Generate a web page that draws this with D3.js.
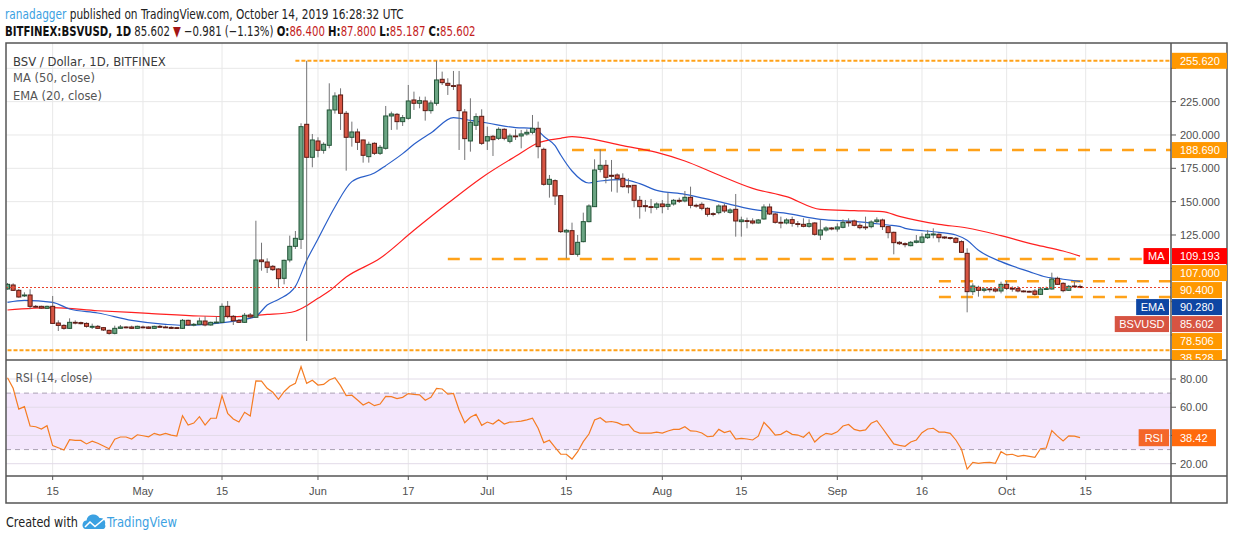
<!DOCTYPE html>
<html>
<head>
<meta charset="utf-8">
<script src="https://cdnjs.cloudflare.com/ajax/libs/d3/7.8.5/d3.min.js"></script>
<style>
  body { margin: 0; background: #fff; }
  svg { display: block; }
</style>
</head>
<body>
<svg id="chart" width="1234" height="540"></svg>
<script>
// daily candles BSV/USD, Bitfinex, starting 2019-04-07
const startDay = "2019-04-07";
const open = [
  84.5, 87.5, 83.5, 79.3, 80, 71.5, 71.5, 70, 71.5, 59,
  57.2, 55, 59.5, 59.3, 58.7, 55.8, 56.5, 55.5, 53.5, 51.25,
  55, 56, 56, 55, 56, 56, 55, 56.5, 56, 55.7,
  55.5, 55, 61, 57.5, 58, 60.5, 57.5, 59.5, 59.5, 71.5,
  64, 61, 59.5, 65, 63.3, 106.25, 104.75, 101.5, 99.5, 92.5,
  106.25, 116.5, 121.75, 208, 183.25, 195.5, 188.5, 192.25, 218.75, 230,
  216.25, 198.25, 202.25, 196.25, 183.75, 193.75, 186.25, 190, 214.25, 215.5,
  210, 212.5, 226.25, 223.75, 225.5, 218.25, 223.75, 241.75, 238.75, 237,
  237.5, 217.25, 195.5, 207.25, 214, 195.5, 199, 197.5, 204.25, 195.25,
  199.25, 199.25, 200.75, 202, 205, 189.25, 163, 165.75, 154.5, 127.25,
  128.25, 110.5, 120, 135, 146.25, 174.25, 177.25, 169.75, 170, 167.5,
  162, 162.25, 151, 147, 146.25, 145.75, 148.25, 146.5, 148.25, 151,
  150.5, 153.25, 147.25, 148, 145, 141, 141.75, 146.75, 142, 144.25,
  135, 135.75, 135.5, 134, 137, 146, 140.75, 134.5, 134, 136.5,
  133.5, 133, 131.5, 134, 125, 128.75, 130.25, 129.5, 130.75, 134.75,
  135.5, 132.25, 131, 131.25, 135, 136.25, 131.25, 127, 119.5, 118.5,
  117, 119.5, 119.5, 123, 125, 125.5, 123.5, 123, 122.5, 120,
  111.25, 82.5, 85.75, 83.5, 84.5, 84.5, 83, 88, 85, 84.75,
  83, 82.75, 83, 80.5, 84.5, 84.5, 92.5, 88.75, 83.5, 86.75,
  86.4
];
const high = [
  89, 88.75, 84.5, 82, 84.3, 72.5, 72, 72, 79.25, 61,
  58, 62.5, 61, 60, 59.5, 58.5, 57.5, 56, 54, 57,
  57.5, 56.5, 57, 57, 57, 56.5, 57, 57.5, 57, 56.5,
  56, 62, 61.5, 59, 63, 64, 60, 64, 73.7, 75.5,
  65, 62, 66.5, 66.5, 135.7, 119.2, 107.5, 102.5, 100, 106.5,
  124.5, 128, 208.75, 255.62, 200.75, 198.25, 194.5, 238.75, 232, 235,
  218, 210, 204.75, 196.5, 195, 194.5, 192.5, 221.75, 217.5, 216.5,
  215, 237.5, 232.5, 228.75, 228.75, 226, 255.62, 247.5, 242.5, 248,
  248, 219.5, 227.5, 216.25, 219.25, 206.25, 200, 205.75, 205, 201,
  204.25, 203.75, 204.25, 215, 210, 190.5, 170, 166.75, 155, 129.5,
  134.25, 125, 141.75, 148, 181.75, 189.25, 181.25, 181.25, 171.25, 171.25,
  167.5, 162.25, 154.25, 151.25, 152, 149.5, 151.25, 156.75, 152, 153,
  158, 161.25, 148.5, 149.5, 145.75, 142, 148, 148.5, 145, 155.75,
  138.75, 138, 137.5, 137, 148, 148.5, 141.5, 138.75, 137.5, 138.75,
  135.5, 137.5, 136.75, 134.5, 136.75, 131.5, 131, 133.75, 136.75, 137.5,
  136.5, 133.75, 138.75, 136, 138.25, 137.25, 131.75, 127.5, 120.5, 119.5,
  120.5, 125, 126.25, 128.75, 130, 126.25, 124, 123.5, 123.5, 121,
  115, 88.75, 87, 85.5, 85, 85, 90, 90.5, 86.5, 86.75,
  83.5, 83.25, 84.5, 86, 86.25, 96.75, 93.75, 89.5, 87.5, 90,
  87.8
];
const low = [
  84, 83, 78, 78.5, 69.3, 70.5, 69.5, 69.5, 58.5, 53,
  54, 54.5, 58, 58, 55.5, 54.5, 54.5, 53, 50.25, 50.5,
  54.5, 55, 54.5, 54.5, 55, 54.5, 54.5, 55.5, 55.5, 54.5,
  54.5, 54.5, 57, 56.5, 57.5, 56.5, 57, 58.5, 59, 62.5,
  57.5, 59, 59, 62.5, 63, 98.25, 96.5, 98, 85.25, 88,
  104.5, 114.5, 114.5, 45.5, 175.75, 183.25, 186, 190, 216, 203.75,
  173.25, 191.25, 188.75, 179.25, 179.25, 185, 185, 189, 203.75, 204,
  206.75, 211.5, 218.75, 220, 210.75, 216, 222, 237.5, 230, 233.75,
  188.75, 181.25, 187.5, 203.75, 192.5, 188.75, 184.25, 196.25, 196, 193.75,
  196.25, 190, 199.5, 200.5, 182.5, 162, 153, 147.5, 126.5, 107.5,
  110, 108.75, 119.5, 134.5, 146, 172, 163.75, 157.5, 156.75, 160.5,
  156.25, 145.75, 137.25, 142.5, 141.25, 144, 141.25, 143.75, 147, 149,
  149.5, 145, 145.5, 143.5, 138.75, 139, 140.5, 141.5, 141, 123.75,
  123.75, 130, 133, 133.5, 136.5, 140, 133.5, 130, 133, 131.25,
  130.75, 130.75, 130.5, 124.5, 121.25, 127.5, 128.5, 127.5, 130, 131.25,
  131.5, 129.25, 128.75, 130, 133.75, 128.75, 122.5, 110.5, 117.5, 115.75,
  116.5, 118.75, 118.75, 122, 122.5, 119.5, 122, 121.5, 118.75, 111.5,
  67, 80, 78.75, 82, 82, 82, 81.25, 83.75, 82.5, 82,
  82, 82, 79.5, 80, 84, 84, 87.5, 82, 83, 85.5,
  85.187
];
const close = [
  88, 83.5, 78.5, 80, 71.5, 71, 70.2, 71.5, 58.7, 57.2,
  55, 59.5, 59, 58.5, 56.5, 56.5, 55, 53.75, 51.25, 55,
  56, 55.5, 55, 56.5, 55.8, 55, 56.5, 55.8, 55.8, 55,
  55, 61, 57.5, 58, 60.5, 57.5, 59.5, 59.7, 71.5, 64,
  60.7, 59.5, 64.8, 63.5, 106.25, 105, 100.75, 99, 92.25, 106,
  116.5, 122.5, 206.25, 183.25, 196.25, 188.5, 193, 218.75, 229.25, 216.25,
  198.25, 202.25, 194.5, 184.75, 193, 186.25, 190.75, 214.25, 215.75, 210,
  213, 225.5, 223.75, 225.75, 218.25, 224, 241.25, 239.25, 237.25, 236.5,
  218.25, 197.25, 209.5, 213.75, 193.75, 198.75, 196.5, 204.25, 197.5, 199.25,
  199, 200.75, 202, 205, 191.25, 163, 166.75, 154.25, 127.5, 128.5,
  110.5, 119.5, 135, 146.75, 173.75, 177.25, 168.25, 169, 167.25, 161.25,
  161, 151, 146.25, 146.25, 145.75, 148.25, 146.25, 148, 151, 150.25,
  153.25, 147.25, 147, 145, 140.5, 140.5, 146.75, 143, 143.75, 135.5,
  136.25, 135.25, 134, 136.25, 146, 140.75, 134.5, 134, 136.25, 133.75,
  133, 131.5, 133.5, 125.5, 128.75, 130.25, 129.5, 131, 134.5, 134.25,
  132.25, 130.5, 130.5, 134.75, 136.25, 131.25, 126.75, 119.25, 118.5, 117.75,
  119.5, 120.5, 123.5, 125.5, 125.75, 123, 122.75, 122.5, 119.5, 112,
  82.5, 86.75, 83.5, 84.5, 84.25, 83, 88, 85, 84.75, 83,
  82.75, 82.5, 80.5, 84.5, 84.75, 92, 88, 83.25, 86.5, 86.4,
  85.602
];

// moving averages: [day index, value]
const ma50 = [
  [0, 68.75], [8, 70.5], [16, 68.2], [25, 66.25], [34, 64.25], [40, 63.75], [46, 65.5],
  [49, 66.3], [51, 67.8], [53, 72], [55, 77.5], [57, 83], [60, 93.5], [66, 107.5],
  [72, 128.5], [78, 148.75], [84, 168], [90, 184], [94, 194], [98, 197.5], [100, 198.75],
  [102, 198], [109, 192], [115, 187], [120, 180.5], [126, 170], [132, 160], [138, 153.75],
  [144, 144.25], [150, 143.25], [155, 142.5], [158, 139], [165, 133], [170, 130.25],
  [176, 124.5], [182, 117.75], [187, 113], [190, 109.193]
];
const ema20 = [
  [0, 74.5], [3, 76], [8, 74.5], [11, 69.5], [16, 66.5], [22, 61], [28, 58], [31, 57.3],
  [37, 58.7], [41, 61], [44, 64], [46, 72.5], [48, 76.7], [51, 86.5], [53, 106], [55, 122],
  [58, 146], [61, 165], [65, 171.5], [67, 177], [70, 186], [72, 193], [75, 201.5], [79, 213],
  [82, 211], [85, 209], [90, 205.5], [93, 205], [94, 203], [95, 199], [97, 192], [98, 185],
  [100, 173], [103, 164], [105, 165.5], [109, 166.5], [112, 163.5], [115, 158.5], [120, 155.5],
  [126, 150], [132, 144.25], [138, 141.25], [144, 136.75], [150, 135.25], [156, 132.5],
  [158, 131.5], [159, 130], [165, 127], [168, 125], [170, 121], [172, 113.5], [176, 105],
  [181, 97.5], [184, 93.5], [187, 91.8], [190, 90.28]
];
const rsi = [
  80.9, 73.4, 58.7, 60.4, 46.7, 46.2, 44.6, 46.9, 32.8, 31.3,
  29.7, 37, 36.5, 36.5, 34, 35.9, 34.5, 32.5, 30.6, 37.3,
  38.9, 38.9, 37.5, 40.5, 39.8, 39, 41.5, 40.2, 41.5, 40.3,
  39.6, 54, 47.4, 48.8, 53.3, 47.4, 52.2, 52.2, 68.2, 55.7,
  51.7, 49.5, 56.4, 53.8, 78.6, 78.5, 73.4, 70.6, 65.6, 71,
  74.8, 76.9, 88.7, 76.9, 79.1, 75.7, 76.2, 79.3, 80.9, 75.3,
  68.2, 68.5, 65.1, 61.6, 63.5, 61.1, 62.3, 67.7, 67.5, 66.1,
  67, 69.7, 69.1, 68.8, 65, 67.1, 73.3, 72.9, 69.3, 69.8,
  58, 49.1, 52.9, 55, 47.2, 49.5, 48.1, 51.2, 48.1, 49.5,
  49.7, 50.2, 51, 52.2, 45.1, 34.9, 36.6, 31.6, 26.7, 26.7,
  23.3, 28.5, 35.6, 41, 51, 52.6, 49.5, 49.9, 49.1, 47.4,
  47.8, 43.2, 41.7, 41.7, 41.7, 42.4, 41.7, 43.2, 44.3, 44.3,
  46.2, 43.2, 43, 41.8, 39.1, 39.5, 44.3, 42, 43.2, 37.5,
  37.9, 37.5, 36.8, 39.5, 49.3, 45.1, 40.3, 40.8, 43.2, 40.8,
  40.3, 38.7, 42.4, 35.4, 39.1, 41.5, 40.8, 42.6, 46.7, 47.8,
  44.3, 43.2, 43.9, 48.6, 50.5, 45.1, 39.5, 34, 33, 32.3,
  35.4, 36.8, 42, 44.6, 45.1, 42.4, 42.4, 41.5, 36.8, 30.2,
  16.2, 21, 20.3, 20.8, 21, 20.3, 28.5, 26.2, 26.7, 25.2,
  25.9, 25.2, 24.5, 30.6, 31.1, 43.4, 39.5, 36.1, 39.7, 39.5,
  38.42
];

// horizontal levels drawn on the chart
const levelValues = [255.62, 188.69, 107, 90.4, 78.506, 38.528];
const levelStart = ["2019-05-28", "2019-07-16", "2019-06-24", "2019-09-19", "2019-09-19", "2019-04-07"];
const levelDash = ["dot", "dash", "dash", "dash", "dash", "dot"];

const priceTicks = [50, 75, 100, 125, 150, 175, 200, 225, 250];
const rsiTicks = [20, 40, 60, 80];
const tickDates = ["2019-04-15", "2019-05-01", "2019-05-15", "2019-06-01", "2019-06-17", "2019-07-01",
  "2019-07-15", "2019-08-01", "2019-08-15", "2019-09-01", "2019-09-16", "2019-10-01", "2019-10-15"];
const tickLabels = ["15", "May", "15", "Jun", "17", "Jul", "15", "Aug", "15", "Sep", "16", "Oct", "15"];

const parse = d3.utcParse("%Y-%m-%d");
const t0 = parse(startDay);
const dayOf = (i) => d3.utcDay.offset(t0, i);

const paneL = 6, axisX = 1171, outerR = 1227;
const priceTop = 43, priceBot = 360, rsiBot = 476, axisBot = 503;

const x = d3.scaleUtc().domain([t0, parse("2019-10-15")]).range([7.5, 1085.7]);
const y = d3.scaleLinear().domain([50, 250]).range([335, 68.3]);
const yr = d3.scaleLinear().domain([20, 80]).range([463.7, 379]);

const narrow = "'Liberation Sans Narrow','DejaVu Sans Condensed','Liberation Sans',Arial,sans-serif";
const plain = "'Liberation Sans',Arial,sans-serif";
const axisSize = 11;

const svg = d3.select("#chart").attr("font-family", plain);

const defs = svg.append("defs");
defs.append("clipPath").attr("id", "clipPrice").append("rect")
  .attr("x", paneL).attr("y", priceTop).attr("width", axisX - paneL).attr("height", priceBot - priceTop);
defs.append("clipPath").attr("id", "clipRsi").append("rect")
  .attr("x", paneL).attr("y", priceBot).attr("width", axisX - paneL).attr("height", rsiBot - priceBot);
defs.append("clipPath").attr("id", "clipBadges").append("rect")
  .attr("x", 1100).attr("y", priceTop).attr("width", outerR - 1100).attr("height", priceBot - priceTop);

svg.append("rect").attr("width", 1234).attr("height", 540).attr("fill", "#fff");

function txt(g, s, xx, yy, o = {}) {
  return g.append("text").attr("x", xx).attr("y", yy).text(s)
    .attr("font-size", o.size || axisSize)
    .attr("fill", o.fill || "#333")
    .attr("font-weight", o.weight || "normal")
    .attr("text-anchor", o.anchor || "start");
}

// one text element made of coloured runs, narrowed to the width seen in the picture
function fitLine(g, parts, x0, yb, target, size) {
  const t = g.append("text").attr("x", 0).attr("y", 0)
    .attr("font-family", narrow).attr("font-size", size);
  parts.forEach((p) => t.append("tspan").text(p[0])
    .attr("fill", p[1] || "#222").attr("font-weight", p[2] ? "bold" : "normal"));
  const k = target / t.node().getComputedTextLength();
  t.attr("transform", `translate(${x0},${yb}) scale(${k},1)`);
  return t;
}

// ---- grid
const grid = svg.append("g").attr("stroke", "#e8e8e8").attr("stroke-width", 1);
grid.selectAll(".vg").data(tickDates).join("line")
  .attr("x1", (d) => x(parse(d))).attr("x2", (d) => x(parse(d)))
  .attr("y1", priceTop).attr("y2", rsiBot);
grid.selectAll(".hg").data(priceTicks).join("line")
  .attr("x1", paneL).attr("x2", axisX)
  .attr("y1", (d) => y(d)).attr("y2", (d) => y(d));

// ---- RSI pane
const rsiG = svg.append("g").attr("clip-path", "url(#clipRsi)");
rsiG.append("rect")
  .attr("x", paneL).attr("width", axisX - paneL)
  .attr("y", yr(70)).attr("height", yr(30) - yr(70))
  .attr("fill", "#f3e6fc");
rsiG.selectAll(".rg").data(rsiTicks).join("line")
  .attr("x1", paneL).attr("x2", axisX)
  .attr("y1", (d) => yr(d)).attr("y2", (d) => yr(d))
  .attr("stroke", "#e2dbe8");
rsiG.selectAll(".rb").data([70, 30]).join("line")
  .attr("x1", paneL).attr("x2", axisX)
  .attr("y1", (d) => yr(d)).attr("y2", (d) => yr(d))
  .attr("stroke", "#aaa1b4").attr("stroke-dasharray", "5,4");
rsiG.append("path")
  .datum(rsi)
  .attr("fill", "none").attr("stroke", "#f57c22").attr("stroke-width", 1.2)
  .attr("d", d3.line().x((d, i) => x(dayOf(i))).y((d) => yr(d)));

// ---- price pane
const pg = svg.append("g").attr("clip-path", "url(#clipPrice)");

pg.selectAll(".lvl").data(levelValues).join("line")
  .attr("x1", (d, i) => x(parse(levelStart[i]))).attr("x2", axisX)
  .attr("y1", (d) => y(d)).attr("y2", (d) => y(d))
  .attr("stroke", "#ff9800").attr("stroke-opacity", 0.9)
  .attr("stroke-width", (d, i) => levelDash[i] === "dot" ? 2 : 2.5)
  .attr("stroke-dasharray", (d, i) => levelDash[i] === "dot" ? "4,2" : "12,10");

const avgLine = d3.line().x((d) => x(dayOf(d[0]))).y((d) => y(d[1])).curve(d3.curveMonotoneX);
pg.append("path").datum(ma50).attr("fill", "none").attr("stroke", "#ff2020")
  .attr("stroke-width", 1.2).attr("d", avgLine);
pg.append("path").datum(ema20).attr("fill", "none").attr("stroke", "#2a5fc9")
  .attr("stroke-width", 1.2).attr("d", avgLine);

const step = x(dayOf(1)) - x(dayOf(0));
const bw = Math.max(3, step * 0.72);
const candles = pg.selectAll(".candle").data(close.map((c, i) => i)).join("g");
candles.append("line")
  .attr("x1", (i) => x(dayOf(i))).attr("x2", (i) => x(dayOf(i)))
  .attr("y1", (i) => y(high[i])).attr("y2", (i) => y(low[i]))
  .attr("stroke", "#737375").attr("stroke-width", 1);
candles.append("rect")
  .attr("x", (i) => x(dayOf(i)) - bw / 2).attr("width", bw)
  .attr("y", (i) => y(Math.max(open[i], close[i])))
  .attr("height", (i) => Math.max(0.8, Math.abs(y(open[i]) - y(close[i]))))
  .attr("fill", (i) => close[i] >= open[i] ? "#6ba583" : "#d75442")
  .attr("stroke", (i) => close[i] >= open[i] ? "#225437" : "#5b1a13")
  .attr("stroke-width", 1);

const lastClose = close[close.length - 1];
pg.append("line")
  .attr("x1", paneL).attr("x2", axisX)
  .attr("y1", y(lastClose)).attr("y2", y(lastClose))
  .attr("stroke", "#e8412c").attr("stroke-width", 1.2).attr("stroke-dasharray", "2,2");

// ---- frame
const frame = svg.append("g").attr("stroke", "#555").attr("stroke-width", 1.5).attr("fill", "none");
frame.append("rect").attr("x", paneL).attr("y", priceTop)
  .attr("width", outerR - paneL).attr("height", axisBot - priceTop);
frame.append("line").attr("x1", axisX).attr("x2", axisX).attr("y1", priceTop).attr("y2", axisBot);
frame.append("line").attr("x1", paneL).attr("x2", outerR).attr("y1", priceBot).attr("y2", priceBot);
frame.append("line").attr("x1", paneL).attr("x2", outerR).attr("y1", rsiBot).attr("y2", rsiBot);

// ---- price badges on the right axis (stacked so they do not cover each other)
const badges = [
  { v: levelValues[0], fill: "#ff9800" },
  { v: levelValues[1], fill: "#ff9800" },
  { v: ma50[ma50.length - 1][1], fill: "#ff0000", tag: "MA" },
  { v: levelValues[2], fill: "#ff9800" },
  { v: levelValues[3], fill: "#ff9800" },
  { v: ema20[ema20.length - 1][1], fill: "#0e46a3", tag: "EMA" },
  { v: lastClose, fill: "#d75442", tag: "BSVUSD" },
  { v: levelValues[4], fill: "#ff9800" },
  { v: levelValues[5], fill: "#ff9800" }
];
badges.forEach((b) => { b.cy = y(b.v); b.label = d3.format(".3f")(b.v); });
badges.sort((a, b) => a.cy - b.cy);
let lastY = -Infinity;
badges.forEach((b) => { b.cy = Math.max(b.cy, lastY + 17); lastY = b.cy; });

// price labels that sit under a badge are hidden, as on the original
const freeTicks = priceTicks.filter((t) => badges.every((b) => Math.abs(y(t) - b.cy) > 8.5));

// ---- axes
const ax = svg.append("g");
ax.selectAll(".pt").data(priceTicks).join("line")
  .attr("x1", axisX).attr("x2", axisX + 5).attr("y1", (d) => y(d)).attr("y2", (d) => y(d))
  .attr("stroke", "#555");
ax.selectAll(".ptl").data(freeTicks).join("text")
  .attr("x", 1180).attr("y", (d) => y(d) + 4)
  .attr("font-size", axisSize).attr("fill", "#4f4f4f")
  .text((d) => d3.format(".3f")(d));
ax.selectAll(".rt").data(rsiTicks).join("line")
  .attr("x1", axisX).attr("x2", axisX + 5).attr("y1", (d) => yr(d)).attr("y2", (d) => yr(d))
  .attr("stroke", "#555");
const rsiLast = rsi[rsi.length - 1];
const rcy = yr(rsiLast);
ax.selectAll(".rtl").data(rsiTicks.filter((t) => Math.abs(yr(t) - rcy) > 8.5)).join("text")
  .attr("x", 1180).attr("y", (d) => yr(d) + 4)
  .attr("font-size", axisSize).attr("fill", "#4f4f4f")
  .text((d) => d3.format(".2f")(d));
ax.selectAll(".xt").data(tickDates).join("line")
  .attr("x1", (d) => x(parse(d))).attr("x2", (d) => x(parse(d)))
  .attr("y1", rsiBot).attr("y2", rsiBot + 4).attr("stroke", "#555");
ax.selectAll(".xtl").data(tickDates).join("text")
  .attr("x", (d) => x(parse(d))).attr("y", 495)
  .attr("text-anchor", "middle").attr("font-size", axisSize).attr("fill", "#4f4f4f")
  .text((d, i) => tickLabels[i]);

const bg = svg.append("g").attr("clip-path", "url(#clipBadges)");
badges.forEach((b) => {
  const w = b.label.length * 6 + 14;
  bg.append("rect").attr("x", axisX + 1).attr("y", b.cy - 8).attr("width", w).attr("height", 16)
    .attr("fill", b.fill);
  txt(bg, b.label, 1180, b.cy + 4, { fill: "#fff" });
  if (b.tag) {
    const t = txt(bg, b.tag, 0, b.cy + 4, { fill: "#fff", anchor: "middle" });
    const tw = t.node().getComputedTextLength() + 9;
    t.attr("x", axisX - 2 - tw / 2);
    bg.insert("rect", function () { return t.node(); })
      .attr("x", axisX - 2 - tw).attr("y", b.cy - 8).attr("width", tw).attr("height", 16)
      .attr("fill", b.fill);
  }
});

// RSI badge
const rLab = d3.format(".2f")(rsiLast);
svg.append("rect").attr("x", axisX + 1).attr("y", rcy - 8.5).attr("width", rLab.length * 6 + 14).attr("height", 17)
  .attr("fill", "#ff6a0d");
txt(svg, rLab, 1180, rcy + 4, { fill: "#fff" });
const rt = txt(svg, "RSI", 0, rcy + 4, { fill: "#fff", anchor: "middle" });
const rtw = rt.node().getComputedTextLength() + 12;
rt.attr("x", axisX - 2 - rtw / 2);
svg.insert("rect", function () { return rt.node(); })
  .attr("x", axisX - 2 - rtw).attr("y", rcy - 8.5).attr("width", rtw).attr("height", 17)
  .attr("fill", "#f4662a");

// ---- legends inside panes
const lg = svg.append("g");
fitLine(lg, [["BSV / Dollar, 1D, BITFINEX", "#3a3a3a"]], 13, 65.5, 153, 13);
fitLine(lg, [["MA (50, close)", "#555"]], 13, 82, 82, 13);
fitLine(lg, [["EMA (20, close)", "#555"]], 13, 100, 89, 13);
fitLine(lg, [["RSI (14, close)", "#555"]], 15.5, 382, 77, 13);

// ---- header
const hd = svg.append("g");
fitLine(hd, [["ranadagger", "#3ba1e2"],
  [" published on TradingView.com, October 14, 2019 16:28:32 UTC", "#222"]], 5, 18.5, 399, 14);
fitLine(hd, [["BITFINEX:BSVUSD, 1D", "#111", true], ["  85.602 ", "#222"], ["\u25BC", "#a31515"],
  [" \u22120.981 (\u22121.13%) ", "#222"],
  ["O:", "#111", true], ["86.400 ", "#c41e1e"], ["H:", "#111", true], ["87.800 ", "#c41e1e"],
  ["L:", "#111", true], ["85.187 ", "#c41e1e"], ["C:", "#111", true], ["85.602", "#c41e1e"]],
  5, 35.5, 471, 14);

// ---- footer
const ft = svg.append("g");
fitLine(ft, [["Created with", "#222"]], 6, 527, 72, 14.5);
ft.append("path")
  .attr("d", "M85,529 a4.5,4.5 0 0 1 1.5,-8.5 a7,7 0 0 1 13,-2.5 a5,5 0 0 1 5.5,6.5 a3.5,3.5 0 0 1 -1.5,4.5 Z")
  .attr("fill", "#3ba1e2");
ft.append("polyline").attr("points", "85,527 90,522 95,526.5 104,519")
  .attr("fill", "none").attr("stroke", "#fff").attr("stroke-width", 1.6);
fitLine(ft, [["TradingView", "#3ba1e2"]], 107, 527, 70, 14.5);
</script>
</body>
</html>
